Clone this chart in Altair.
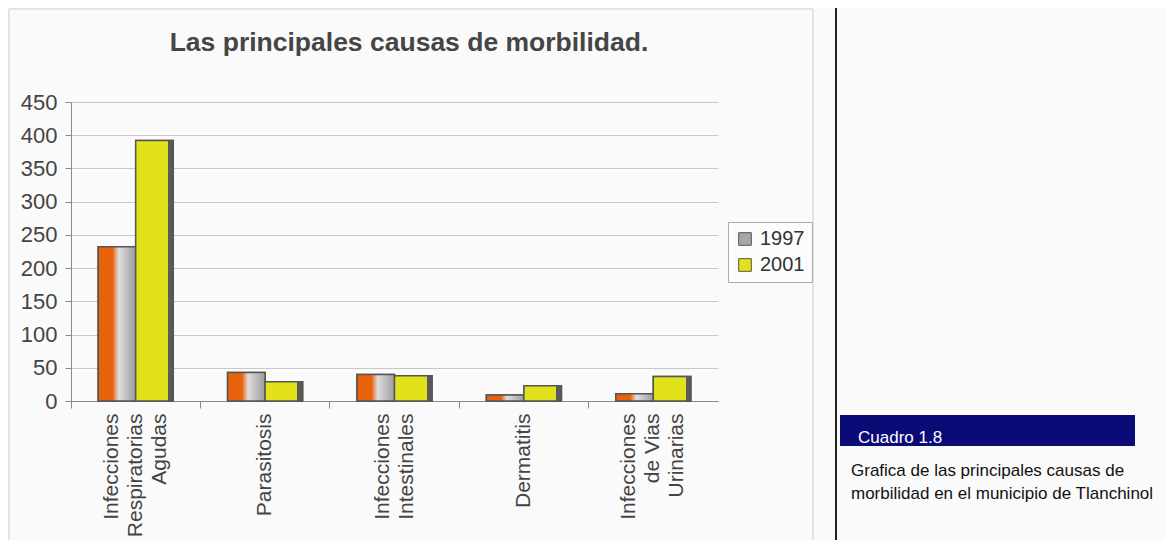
import altair as alt
import pandas as pd

# ---- data ----
categories = [
    "Infecciones\nRespiratorias\nAgudas",
    "Parasitosis",
    "Infecciones\nIntestinales",
    "Dermatitis",
    "Infecciones\nde Vias\nUrinarias",
]
years = ["1997", "2001"]
values_1997 = [232, 43, 40, 9, 11]
values_2001 = [392, 29, 38, 23, 37]
y_ticks = [0, 50, 100, 150, 200, 250, 300, 350, 400, 450]

title_text = "Las principales causas de morbilidad."
box_label = "Cuadro 1.8"
caption_line1 = "Grafica de las principales causas de"
caption_line2 = "morbilidad en el municipio de Tlanchinol"

rows = []
for c, v in zip(categories, values_1997):
    rows.append({"causa": c, "anio": "1997", "casos": v})
for c, v in zip(categories, values_2001):
    rows.append({"causa": c, "anio": "2001", "casos": v})
df = pd.DataFrame(rows)

FONT = "Liberation Sans"
TXT = "#444444"
AX = "#8a8a8a"
LINE_H = 24

x_scale = alt.Scale(domain=categories, paddingInner=0, paddingOuter=0)
xo_scale = alt.Scale(domain=years, paddingInner=0, paddingOuter=0.725)
y_scale = alt.Scale(domain=[0, 450], nice=False)

grad_1997 = alt.LinearGradient(
    gradient="linear", x1=0, x2=1, y1=0, y2=0,
    stops=[
        alt.GradientStop(color="#e8620c", offset=0),
        alt.GradientStop(color="#e8620c", offset=0.38),
        alt.GradientStop(color="#dedede", offset=0.55),
        alt.GradientStop(color="#9c9c9c", offset=1),
    ],
)
grad_2001 = alt.LinearGradient(
    gradient="linear", x1=0, x2=1, y1=0, y2=0,
    stops=[
        alt.GradientStop(color="#e2e21c", offset=0),
        alt.GradientStop(color="#e2e21c", offset=0.86),
        alt.GradientStop(color="#5a5a5a", offset=0.86),
        alt.GradientStop(color="#5a5a5a", offset=1),
    ],
)

n_lines = "length(split(datum.label, '\\n'))"
label_axis = alt.Axis(
    orient="bottom", title=None, labelAngle=270,
    labelExpr="split(datum.label, '\\n')",
    labelFontSize=21, labelLineHeight=LINE_H, labelColor=TXT, labelFont=FONT,
    labelPadding=12, labelLimit=300, ticks=False, grid=False,
    labelOffset={
        "condition": [
            {"test": n_lines + " == 3", "value": -LINE_H},
            {"test": n_lines + " == 2", "value": -LINE_H / 2},
        ],
        "value": 0,
    },
    domainColor=AX, domainWidth=1,
)
tick_axis = alt.Axis(
    orient="bottom", title=None, labels=False, ticks=True, tickSize=7,
    tickColor=AX, domain=False, grid=False, bandPosition=0,
)
y_axis = alt.Axis(
    title=None, values=y_ticks, labelFontSize=22, labelColor=TXT,
    labelFont=FONT, labelPadding=8, tickSize=6, tickColor=AX,
    labelOverlap=False, domainColor=AX, gridColor="#c8c8c8", gridWidth=1,
)

base = alt.Chart(df)

bars = base.mark_bar(stroke="#555555", strokeWidth=1.5).encode(
    x=alt.X("causa:N", scale=x_scale, sort=categories, axis=label_axis),
    xOffset=alt.XOffset("anio:N", scale=xo_scale),
    y=alt.Y("casos:Q", scale=y_scale, axis=y_axis),
    color=alt.Color(
        "anio:N",
        scale=alt.Scale(domain=years, range=["#a6a6a6", "#e2e21c"]),
        legend=alt.Legend(
            title=None, orient="none", legendX=657, legendY=120,
            labelFontSize=20, labelColor="#333333", labelFont=FONT,
            symbolType="square", symbolSize=160, symbolStrokeColor="#555555",
            symbolStrokeWidth=1, strokeColor="#aaaaaa", padding=7,
            rowPadding=6, labelOffset=5, fillColor="#fcfcfc",
        ),
    ),
)

over_1997 = base.transform_filter("datum.anio == '1997'").mark_bar(
    stroke="#555555", strokeWidth=1.5
).encode(
    x=alt.X("causa:N", scale=x_scale, sort=categories, axis=tick_axis),
    xOffset=alt.XOffset("anio:N", scale=xo_scale),
    y=alt.Y("casos:Q", scale=y_scale, axis=y_axis),
    fill=alt.value(grad_1997),
)

over_2001 = base.transform_filter("datum.anio == '2001'").mark_bar(
    stroke="#555555", strokeWidth=1.5
).encode(
    x=alt.X("causa:N", scale=x_scale, sort=categories, axis=None),
    xOffset=alt.XOffset("anio:N", scale=xo_scale),
    y=alt.Y("casos:Q", scale=y_scale, axis=y_axis),
    fill=alt.value(grad_2001),
)

one = alt.Data(values=[{"k": 0}])

frame = alt.Chart(one).mark_rect(
    fill="transparent", stroke="#cdcdcd", strokeWidth=1
).encode(x=alt.value(-62), x2=alt.value(742), y=alt.value(-93), y2=alt.value(445))

title = alt.Chart(one).mark_text(
    align="center", baseline="alphabetic", fontSize=26.5, fontWeight="bold",
    font=FONT, color="#454545",
).encode(x=alt.value(338), y=alt.value(-51), text=alt.value(title_text))

divider = alt.Chart(one).mark_rule(color="#222222", strokeWidth=2).encode(
    x=alt.value(765), y=alt.value(-94), y2=alt.value(445)
)

navy = alt.Chart(one).mark_rect(color="#0b0b78").encode(
    x=alt.value(769), x2=alt.value(1064), y=alt.value(313), y2=alt.value(344)
)

box_text = alt.Chart(one).mark_text(
    align="left", baseline="alphabetic", fontSize=17, font=FONT, color="white"
).encode(x=alt.value(787), y=alt.value(341), text=alt.value(box_label))

cap1 = alt.Chart(one).mark_text(
    align="left", baseline="alphabetic", fontSize=17, font=FONT, color="#111111"
).encode(x=alt.value(780), y=alt.value(374), text=alt.value(caption_line1))

cap2 = alt.Chart(one).mark_text(
    align="left", baseline="alphabetic", fontSize=17, font=FONT, color="#111111"
).encode(x=alt.value(780), y=alt.value(397), text=alt.value(caption_line2))

chart = alt.layer(
    frame, bars, over_1997, over_2001, title, divider, navy, box_text, cap1, cap2
).resolve_axis(x="independent").properties(
    width=647, height=299,
    autosize=alt.AutoSizeParams(type="none"),
    padding={"left": 63, "top": 94, "right": 448, "bottom": 139},
    background="#fafafa",
).configure_view(stroke="transparent")

chart.save("out.html", embed_options={"renderer": "svg", "actions": False})
